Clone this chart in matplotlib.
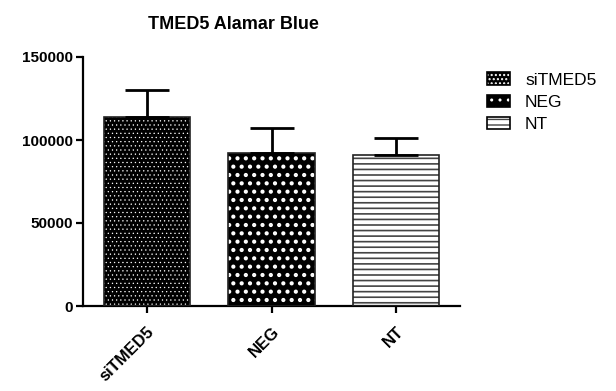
import numpy as np
import matplotlib
matplotlib.use("Agg")
import matplotlib.pyplot as plt
from matplotlib.patches import Patch

plt.rcParams['font.family'] = ['Liberation Sans', 'DejaVu Sans']

groups = ["siTMED5", "NEG", "NT"]
means = [114000, 92000, 91000]
errors = [16000, 15500, 10000]

# pattern per bar: (face, hatch colour, hatch, hatch line width)
styles = [("black", "white", "....", 0.4),
          ("black", "white", "..", 1.8),
          ("white", "#444444", "---", 1.2)]


def hatched(patch, hlw):
    if hasattr(patch, "set_hatch_linewidth"):
        patch.set_hatch_linewidth(hlw)
    return patch


fig = plt.figure(figsize=(6.16, 3.91), dpi=100)
ax = fig.add_axes([83 / 616, 1 - 306 / 391, (460 - 83) / 616, (306 - 57) / 391])

x = np.arange(len(groups))
width = 0.69
for xi, m, (fc, hc, h, hlw) in zip(x, means, styles):
    with plt.rc_context({"hatch.linewidth": hlw}):
        b = ax.bar(xi, m, width, color=fc, edgecolor=hc, hatch=h, linewidth=0, zorder=2)
    hatched(b.patches[0], hlw)
    ax.bar(xi, m, width, color="none", edgecolor="#222222", linewidth=1.2, zorder=3)

ax.errorbar(x, means, yerr=[np.zeros(len(errors)), errors], fmt="none",
            ecolor="black", elinewidth=2, capsize=16, capthick=2, zorder=4)

ax.set_xlim(-0.51, 2.51)
ax.set_ylim(0, 150000)
ax.set_yticks([0, 50000, 100000, 150000])
ax.set_yticklabels(["0", "50000", "100000", "150000"], fontweight="bold", fontsize=11)
ax.set_xticks(x)
ax.set_xticklabels(groups, rotation=45, ha="right", va="top", rotation_mode="anchor",
                   fontweight="bold", fontsize=12)

for s in ["top", "right"]:
    ax.spines[s].set_visible(False)
for s in ["left", "bottom"]:
    ax.spines[s].set_linewidth(1.6)
ax.tick_params(axis="both", direction="out", length=5, width=1.6, pad=2)
ax.tick_params(axis="x", pad=8)

ax.set_title("TMED5 Alamar Blue", fontweight="bold", fontsize=13, pad=20, x=0.4)

handles = []
for fc, hc, h, hlw in styles:
    with plt.rc_context({"hatch.linewidth": hlw}):
        p = hatched(Patch(facecolor=fc, edgecolor=hc, hatch=h, linewidth=0), hlw)
    handles.append((p, Patch(facecolor="none", edgecolor="black", linewidth=1.2)))

leg = fig.legend(handles, groups, loc="upper left", bbox_to_anchor=(0.765, 0.855),
                 frameon=False, fontsize=12.5, handlelength=1.35, handleheight=0.72,
                 labelspacing=0.4, handletextpad=0.85)

fig.savefig("out.png", dpi=100)
